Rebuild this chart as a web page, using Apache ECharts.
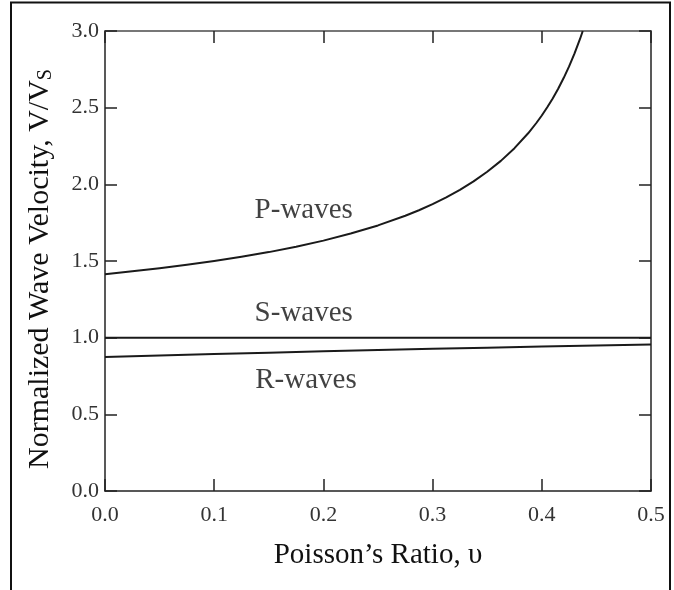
<!DOCTYPE html>
<html>
<head>
<meta charset="utf-8">
<script src="https://cdn.jsdelivr.net/npm/echarts@6/dist/echarts.min.js"></script>
<style>html,body{margin:0;padding:0;background:#fff;}#c{width:674px;height:590px;}</style>
</head>
<body>
<div id="c"></div>
<script>
// Data
const xTicks = [0.0, 0.1, 0.2, 0.3, 0.4, 0.5];
const yTicks = [0.0, 0.5, 1.0, 1.5, 2.0, 2.5, 3.0];
const pX = [0, 0.025, 0.05, 0.075, 0.1, 0.125, 0.15, 0.175, 0.2, 0.225, 0.25, 0.275, 0.2875, 0.3, 0.3125, 0.325, 0.3375, 0.35, 0.3625, 0.375, 0.3875, 0.395, 0.4, 0.405, 0.41, 0.415, 0.42, 0.425, 0.43, 0.435, 0.4375];
const pY = [1.414, 1.433, 1.453, 1.475, 1.5, 1.528, 1.558, 1.593, 1.633, 1.679, 1.732, 1.795, 1.831, 1.871, 1.915, 1.964, 2.019, 2.082, 2.153, 2.236, 2.333, 2.4, 2.449, 2.503, 2.56, 2.623, 2.693, 2.769, 2.854, 2.948, 3.0];
const sX = [0, 0.5];
const sY = [1.0, 1.0];
const rX = [0, 0.1, 0.2, 0.3, 0.4, 0.5];
const rY = [0.874, 0.893, 0.911, 0.927, 0.942, 0.955];
const labelNames = ['P-waves', 'S-waves', 'R-waves'];
const labelX = [0.182, 0.182, 0.184];
const labelY = [1.833, 1.161, 0.724];

const font = '"Liberation Serif", "Times New Roman", serif';
const zip = (xs, ys) => xs.map((x, i) => [x, ys[i]]);

const chart = echarts.init(document.getElementById('c'), null, {renderer: 'canvas'});
const tickStyle = {show: true, inside: true, length: 12, lineStyle: {color: '#222', width: 1.5}};
chart.setOption({
  animation: false,
  backgroundColor: '#fff',
  grid: {left: 105, right: 23, top: 31, bottom: 99, containLabel: false},
  graphic: [{
    type: 'rect', z: 100,
    shape: {x: 11, y: 2.5, width: 659, height: 620},
    style: {fill: 'none', stroke: '#111', lineWidth: 2}
  }],
  xAxis: [{
    type: 'value', min: 0, max: 0.5, interval: 0.1,
    axisLine: {show: true, onZero: false, lineStyle: {color: '#222', width: 1.5}},
    axisTick: tickStyle,
    splitLine: {show: false},
    axisLabel: {margin: 13, fontFamily: font, fontSize: 22, color: '#333',
      formatter: v => v.toFixed(1)},
    name: 'Poisson\u2019s Ratio, \u03c5', nameLocation: 'middle', nameGap: 50,
    nameTextStyle: {fontFamily: font, fontSize: 29, color: '#111'}
  }, {
    type: 'value', min: 0, max: 0.5, interval: 0.1, position: 'top',
    axisLine: {show: true, onZero: false, lineStyle: {color: '#777', width: 2}},
    axisTick: tickStyle, axisLabel: {show: false}, splitLine: {show: false}
  }],
  yAxis: [{
    type: 'value', min: 0, max: 3, interval: 0.5,
    axisLine: {show: true, onZero: false, lineStyle: {color: '#222', width: 1.5}},
    axisTick: tickStyle,
    splitLine: {show: false},
    axisLabel: {margin: 6, fontFamily: font, fontSize: 22, color: '#333',
      formatter: v => v.toFixed(1)},
    name: '{m|Normalized Wave Velocity, V/V}{s|S}', nameLocation: 'middle', nameGap: 47,
    nameTextStyle: {fontFamily: font, fontSize: 30, color: '#111', padding: [0, 16, 0, 0],
      rich: {m: {fontFamily: font, fontSize: 30, color: '#111', lineHeight: 36},
             s: {fontFamily: font, fontSize: 20, color: '#111', padding: [12, 0, 0, 0], lineHeight: 36}}}
  }, {
    type: 'value', min: 0, max: 3, interval: 0.5, position: 'right',
    axisLine: {show: true, onZero: false, lineStyle: {color: '#222', width: 1.5}},
    axisTick: tickStyle, axisLabel: {show: false}, splitLine: {show: false}
  }],
  series: [{
    type: 'line', data: zip(pX, pY), smooth: false, symbol: 'none',
    lineStyle: {color: '#1a1a1a', width: 2, join: 'round'}
  }, {
    type: 'line', data: zip(sX, sY), symbol: 'none',
    lineStyle: {color: '#1a1a1a', width: 2}
  }, {
    type: 'line', data: zip(rX, rY), smooth: true, symbol: 'none',
    lineStyle: {color: '#1a1a1a', width: 2}
  }, {
    type: 'scatter', symbolSize: 0,
    data: labelNames.map((n, i) => ({value: [labelX[i], labelY[i]], name: n})),
    label: {show: true, position: 'inside', formatter: p => p.name,
      fontFamily: font, fontSize: 29, color: '#111'}
  }]
});
</script>
</body>
</html>
